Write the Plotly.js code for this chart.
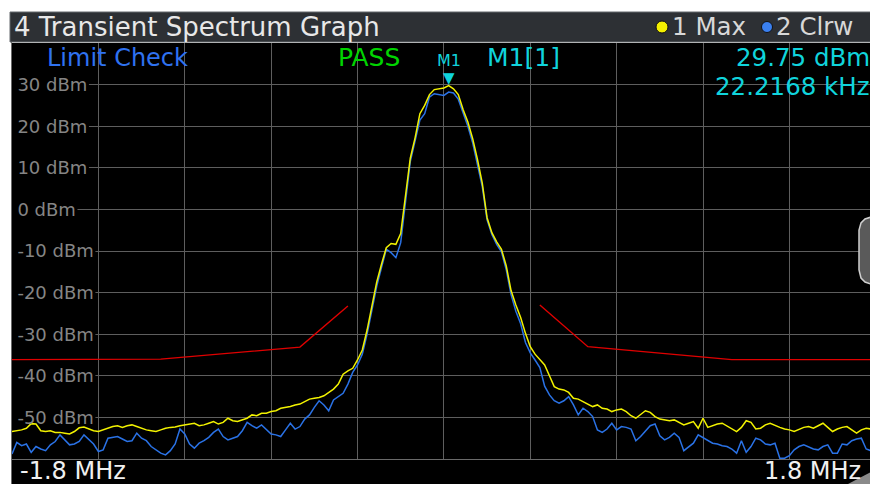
<!DOCTYPE html>
<html><head><meta charset="utf-8">
<script src="https://cdn.plot.ly/plotly-3.0.1.min.js"></script>
<style>html,body{margin:0;padding:0;background:#fff;overflow:hidden}</style>
</head><body><div id="chart" style="width:870px;height:484px"></div>
<script>
// ---- data ----
const titleText = "4 Transient Spectrum Graph";
const traceNames = ["1 Max", "2 Clrw"];
const limitStatus = ["Limit Check", "PASS"];
const freqStartMHz = -1.8, freqStopMHz = 1.8, sweepPoints = 181;
const xEdgeLabels = ["-1.8 MHz", "1.8 MHz"];
const yTickVals = [30, 20, 10, 0, -10, -20, -30, -40, -50];
const yTickText = ["30 dBm", "20 dBm", "10 dBm", "0 dBm", "-10 dBm", "-20 dBm", "-30 dBm", "-40 dBm", "-50 dBm"];
const trace1MaxDbm = [
 -53.4,-53.2,-53.0,-52.6,-51.5,-51.6,-53.2,-53.4,-53.2,-53.6,
 -53.6,-53.8,-54.0,-53.4,-52.5,-52.3,-52.8,-53.2,-53.4,-53.0,
 -52.6,-52.2,-52.0,-52.4,-52.0,-51.8,-52.2,-52.6,-53.0,-53.2,
 -53.4,-53.0,-52.6,-52.4,-52.3,-52.0,-51.8,-51.6,-51.4,-52.0,
 -51.8,-51.4,-51.0,-51.6,-51.2,-50.2,-50.8,-51.0,-50.6,-50.2,
 -49.4,-49.6,-49.0,-49.0,-48.6,-48.4,-47.8,-47.6,-47.4,-47.0,
 -46.8,-46.2,-45.6,-45.4,-45.2,-44.8,-44.0,-43.2,-42.0,-39.6,
 -38.8,-38.2,-36.2,-33.8,-29.0,-23.5,-17.5,-13.2,-9.2,-8.2,
 -8.4,-5.8,3.8,12.3,17.2,23.0,25.0,27.6,28.8,29.0,
 29.2,29.75,29.0,27.6,24.0,21.0,17.0,12.0,6.3,-2.0,
 -5.6,-7.8,-9.6,-13.6,-19.5,-23.0,-26.0,-29.8,-33.0,-34.8,
 -36.2,-37.4,-40.0,-42.6,-43.2,-43.4,-44.0,-45.4,-45.6,-46.2,
 -46.6,-47.4,-47.0,-47.8,-48.0,-48.6,-48.2,-48.0,-48.6,-49.6,
 -50.2,-49.4,-48.4,-48.8,-49.8,-50.4,-50.6,-50.8,-50.6,-51.2,
 -51.8,-51.4,-51.0,-52.6,-50.2,-52.4,-52.0,-51.6,-51.4,-52.0,
 -52.6,-53.4,-52.4,-50.8,-51.2,-52.8,-52.6,-51.8,-51.4,-52.0,
 -52.4,-52.8,-53.0,-53.4,-52.8,-52.4,-52.2,-52.6,-52.0,-51.4,
 -52.4,-53.4,-52.8,-52.4,-52.2,-53.0,-53.8,-53.0,-52.6,-52.8,
 -52.8];
const trace2ClrwDbm = [
 -58.8,-56.0,-56.8,-56.4,-58.4,-57.0,-57.6,-58.0,-56.6,-55.8,
 -54.2,-55.4,-56.6,-56.4,-55.8,-54.2,-55.2,-56.4,-58.2,-57.8,
 -55.0,-54.8,-54.6,-55.2,-55.8,-55.6,-53.8,-55.0,-55.6,-57.0,
 -57.8,-58.6,-59.0,-58.0,-56.4,-52.8,-54.0,-56.4,-57.4,-56.2,
 -55.6,-54.8,-53.6,-52.8,-54.6,-55.4,-55.0,-54.6,-53.2,-51.2,
 -52.0,-52.6,-51.8,-53.0,-54.0,-54.2,-54.6,-53.0,-51.4,-52.8,
 -52.2,-50.4,-49.4,-47.6,-46.0,-47.0,-48.4,-45.8,-45.0,-44.2,
 -42.0,-39.2,-37.4,-34.8,-30.0,-24.5,-18.5,-14.0,-9.6,-10.4,
 -11.6,-8.0,2.5,11.5,16.5,21.5,23.0,27.0,27.8,27.6,
 27.4,28.2,28.0,26.5,23.5,20.0,16.0,11.0,5.5,-2.5,
 -6.0,-8.4,-10.2,-14.5,-20.5,-24.5,-27.5,-32.0,-34.5,-36.2,
 -38.0,-42.5,-44.6,-46.0,-46.6,-46.0,-45.0,-47.0,-49.4,-47.8,
 -48.6,-49.8,-53.0,-53.6,-52.8,-51.4,-53.0,-52.2,-52.4,-52.8,
 -55.6,-54.6,-53.2,-52.0,-51.6,-54.4,-55.4,-54.8,-53.8,-54.8,
 -58.0,-57.0,-56.2,-54.2,-54.8,-55.6,-56.2,-56.4,-56.8,-57.0,
 -57.6,-58.6,-55.6,-58.4,-57.0,-55.0,-55.4,-56.4,-56.6,-56.2,
 -59.8,-59.8,-59.2,-57.8,-57.0,-56.6,-57.2,-57.6,-57.8,-57.0,
 -56.6,-58.6,-58.6,-56.4,-56.6,-55.6,-55.2,-55.0,-57.6,-58.0,
 -57.0];
const limitFreqMHz = [-1.8, -1.18, -0.6, -0.4, null, 0.4, 0.6, 1.2, 1.8];
const limitDbm = [-36.1, -36.0, -33.1, -23.2, null, -23.0, -33.0, -36.1, -36.1];
const markerName = ["M1"];
const markerFreqMHz = [0.0222];
const markerDbm = [29.75];
const markerReadout = ["M1[1]", "29.75 dBm", "22.2168 kHz"];

// ---- geometry helpers (pixels -> paper) ----
const L = 12, T = 43, W = 858, H = 416;
const X = px => (px - L) / W;
const Y = py => (T + H - py) / H;
const FONT = "DejaVu Sans";
const TICK_SIZE = 18;

const freq = [];
for (let i = 0; i < sweepPoints; i++) freq.push(freqStartMHz + i * (freqStopMHz - freqStartMHz) / (sweepPoints - 1));

const traces = [
  {x: limitFreqMHz, y: limitDbm, type: "scatter", mode: "lines", line: {color: "#e00000", width: 1.4}, hoverinfo: "skip", connectgaps: false},
  {x: freq, y: trace2ClrwDbm, type: "scatter", mode: "lines", name: traceNames[1], line: {color: "#2a72e6", width: 1.5}},
  {x: freq, y: trace1MaxDbm, type: "scatter", mode: "lines", name: traceNames[0], line: {color: "#f2f200", width: 1.5}}
];

const pxPerMHz = W / 3.576;
const fAt = px => -1.8 + (px - L) / pxPerMHz;
// approximate glyph advance widths (em) for mask sizing
const adv = {"-": 0.361, " ": 0.318, "d": 0.635, "B": 0.686, "m": 0.974};
const textW = (t, s) => [...t].reduce((a, c) => a + (adv[c] !== undefined ? adv[c] : 0.636), 0) * s;

const shapes = [];
// title bar
shapes.push({type: "rect", xref: "paper", yref: "paper", x0: X(10), x1: X(880), y0: Y(42), y1: Y(12), fillcolor: "#2d3034", line: {color: "#65686c", width: 1}, layer: "below"});
// legend dots
shapes.push({type: "circle", xref: "paper", yref: "paper", x0: X(656), x1: X(668), y0: Y(33), y1: Y(21), fillcolor: "#f4f000", line: {color: "#111", width: 1}});
shapes.push({type: "circle", xref: "paper", yref: "paper", x0: X(761.5), x1: X(772.5), y0: Y(32.5), y1: Y(21.5), fillcolor: "#3a80f0", line: {color: "#111", width: 1}});
// bottom black strip
shapes.push({type: "rect", xref: "paper", yref: "paper", x0: X(11), x1: X(880), y0: Y(484), y1: Y(459), fillcolor: "#000", line: {width: 0}, layer: "below"});
shapes.push({type: "line", xref: "paper", yref: "paper", x0: X(11.5), x1: X(11.5), y0: Y(484), y1: Y(42), line: {color: "#6a6a6a", width: 1}});
// mask gridlines behind y labels
yTickText.forEach((t, i) => {
  const endPx = 18 + textW(t, TICK_SIZE) + 1;
  shapes.push({type: "rect", xref: "x", yref: "y", x0: -1.8, x1: fAt(endPx), y0: yTickVals[i] - 2.4, y1: yTickVals[i] + 2.4, fillcolor: "#000", line: {width: 0}, layer: "between"});
});
// mask grid under marker readout
shapes.push({type: "rect", xref: "x", yref: "paper", x0: fAt(486), x1: 1.8, y0: Y(99), y1: 1, fillcolor: "#000", line: {width: 0}, layer: "between"});
// scroll handle at right edge
const pathPx = pts => pts.map((p, i) => (i ? "L" : "M") + X(p[0]).toFixed(5) + "," + Y(p[1]).toFixed(5)).join(" ") + " Z";
shapes.push({type: "path", xref: "paper", yref: "paper", path: pathPx([[871,217],[865,219],[861,223],[859,230],[859,270],[861,278],[865,282],[871,284]]), fillcolor: "#5a5a5a", line: {color: "#d0d0d0", width: 1.5}});
// resize grip
shapes.push({type: "path", xref: "paper", yref: "paper", path: pathPx([[848,484],[871,472],[871,484]]), fillcolor: "#8a8a8a", line: {width: 0}});

const ann = (text, xpx, ypx, anchor, color, size, extra) => Object.assign({
  text, xref: "paper", yref: "paper", x: X(xpx), y: Y(ypx), xanchor: anchor, yanchor: "middle",
  showarrow: false, font: {family: FONT, size, color}
}, extra || {});

const annotations = [
  ann(titleText, 12, 27, "left", "#e8e8e8", 26),
  ann(traceNames[0], 670, 27, "left", "#d8d8d8", 24.5),
  ann(traceNames[1], 774, 27, "left", "#d8d8d8", 24.5),
  ann(limitStatus[0], 45, 58, "left", "#2f72f0", 24),
  ann(limitStatus[1], 336, 58, "left", "#00d400", 25),
  ann(markerReadout[0], 485, 58, "left", "#10d4dc", 25),
  ann(markerReadout[1], 872, 58, "right", "#10d4dc", 24.5),
  ann(markerReadout[2], 872, 87, "right", "#10d4dc", 24.5),
  ann(xEdgeLabels[0], 19, 484, "left", "#f0f0f0", 24, {yanchor: "bottom", borderpad: 0, yshift: -2}),
  ann(xEdgeLabels[1], 862, 484, "right", "#f0f0f0", 24, {yanchor: "bottom", borderpad: 0, yshift: -2}),
  {text: markerName[0], xref: "x", yref: "paper", x: markerFreqMHz[0], y: Y(61), xanchor: "center", yanchor: "middle", showarrow: false, font: {family: FONT, size: 16, color: "#10d4dc"}},
  {text: "▼", xref: "x", yref: "y", x: markerFreqMHz[0], y: markerDbm[0], xanchor: "center", yanchor: "bottom", yshift: -3, showarrow: false, font: {family: FONT, size: 15, color: "#10d4dc"}}
];

const layout = {
  width: 870, height: 484,
  margin: {l: L, r: 0, t: T, b: 25, pad: 0},
  paper_bgcolor: "#ffffff", plot_bgcolor: "#000000",
  showlegend: false,
  xaxis: {range: [-1.8, -1.8 + 3.576], tick0: -1.8, dtick: 0.36, showgrid: true, gridcolor: "#5e5e5e", gridwidth: 1,
          zeroline: false, showticklabels: false, ticks: "", showline: true, linecolor: "#6a6a6a", linewidth: 1, fixedrange: true},
  yaxis: {range: [-60, 40], tickvals: yTickVals, ticktext: yTickText, showgrid: true, gridcolor: "#5e5e5e", gridwidth: 1,
          zeroline: false, ticks: "", ticklabelposition: "inside", tickfont: {family: FONT, size: TICK_SIZE, color: "#858585"},
          showline: true, linecolor: "#6a6a6a", linewidth: 1, fixedrange: true, ticklabelstandoff: 6},
  shapes, annotations
};

Plotly.newPlot("chart", traces, layout, {staticPlot: true, displayModeBar: false});
</script></body></html>
